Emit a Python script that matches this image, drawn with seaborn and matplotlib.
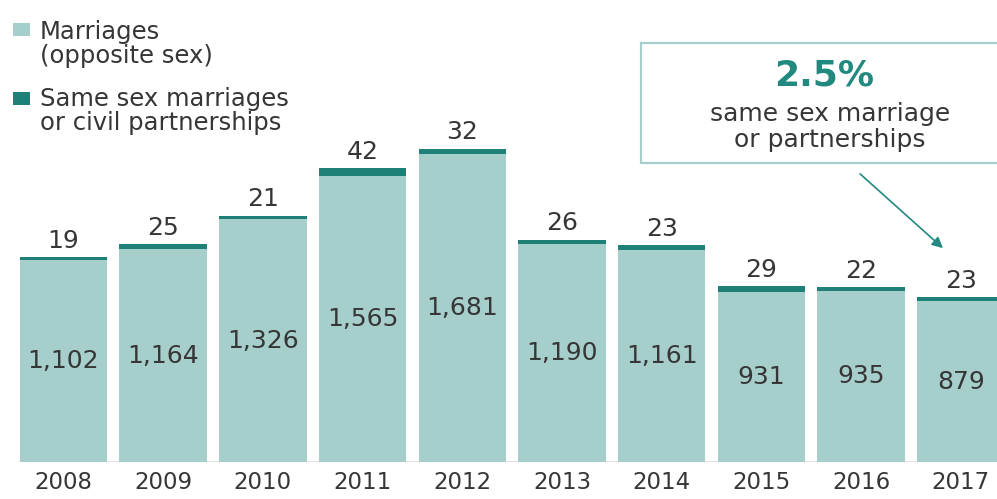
import matplotlib
matplotlib.use("Agg")
import matplotlib.pyplot as plt
import seaborn as sns
import pandas as pd
from matplotlib.patches import Rectangle

years = ["2008", "2009", "2010", "2011", "2012", "2013", "2014", "2015", "2016", "2017"]
opposite_sex = [1102, 1164, 1326, 1565, 1681, 1190, 1161, 931, 935, 879]
same_sex = [19, 25, 21, 42, 32, 26, 23, 29, 22, 23]

LIGHT = "#a6cecb"
DARK = "#1f8078"
TEXT = "#363636"
ACCENT = "#21897f"

df = pd.DataFrame({"year": years, "opposite": opposite_sex, "same": same_sex})
df["total"] = df["opposite"] + df["same"]

W, H = 997, 499
fig = plt.figure(figsize=(W / 100, H / 100), dpi=100)
ax = fig.add_axes([0, (H - 462) / H, 1, 462 / H])

bw = 0.878
sns.barplot(data=df, x="year", y="total", color=DARK, saturation=1, width=bw,
            linewidth=0, ax=ax, order=years)
sns.barplot(data=df, x="year", y="opposite", color=LIGHT, saturation=1, width=bw,
            linewidth=0, ax=ax, order=years)

ax.set_xlim(-0.637, 9.363)
ax.set_ylim(0, 2525)
for s in ax.spines.values():
    s.set_visible(False)
ax.set_yticks([])
ax.set_xlabel("")
ax.set_ylabel("")
ax.tick_params(axis="x", length=0, pad=6.5, labelsize=16.5, labelcolor=TEXT)
ax.axhline(0, color="#e3e3e3", lw=1.5, xmin=0.02, zorder=0)

for i, r in df.iterrows():
    ax.annotate(f"{r['same']}", xy=(i, r["total"]), xytext=(0, 3),
                textcoords="offset points", ha="center", va="bottom",
                fontsize=18, color=TEXT)
    ax.text(i, r["opposite"] / 2, f"{r['opposite']:,}", ha="center", va="center",
            fontsize=18, color=TEXT)

def fy(p):
    return 1 - p / H

# legend
fig.patches.append(Rectangle((13 / W, fy(36)), 17 / W, 13 / H, transform=fig.transFigure,
                             facecolor=LIGHT, edgecolor="none"))
fig.patches.append(Rectangle((13 / W, fy(105)), 17 / W, 13 / H, transform=fig.transFigure,
                             facecolor=DARK, edgecolor="none"))
fig.text(40 / W, fy(44), "Marriages\n(opposite sex)", ha="left", va="center",
         fontsize=17.5, color=TEXT, linespacing=1.05)
fig.text(40 / W, fy(111), "Same sex marriages\nor civil partnerships", ha="left", va="center",
         fontsize=17.5, color=TEXT, linespacing=1.05)

# annotation box
fig.patches.append(Rectangle((641 / W, fy(163)), 400 / W, 120 / H, transform=fig.transFigure,
                             facecolor="white", edgecolor=LIGHT, lw=1.6))
fig.text(824 / W, fy(75), "2.5%", ha="center", va="center", fontsize=26,
         fontweight="bold", color=ACCENT)
fig.text(830 / W, fy(127), "same sex marriage\nor partnerships", ha="center", va="center",
         fontsize=18, color=TEXT, linespacing=1.1)

ax.annotate("", xy=(945, H - 250), xycoords="figure pixels",
            xytext=(858, H - 172), textcoords="figure pixels",
            arrowprops=dict(arrowstyle="-|>", color=ACCENT, lw=1.2, mutation_scale=16))

fig.savefig("out.png", dpi=100)
